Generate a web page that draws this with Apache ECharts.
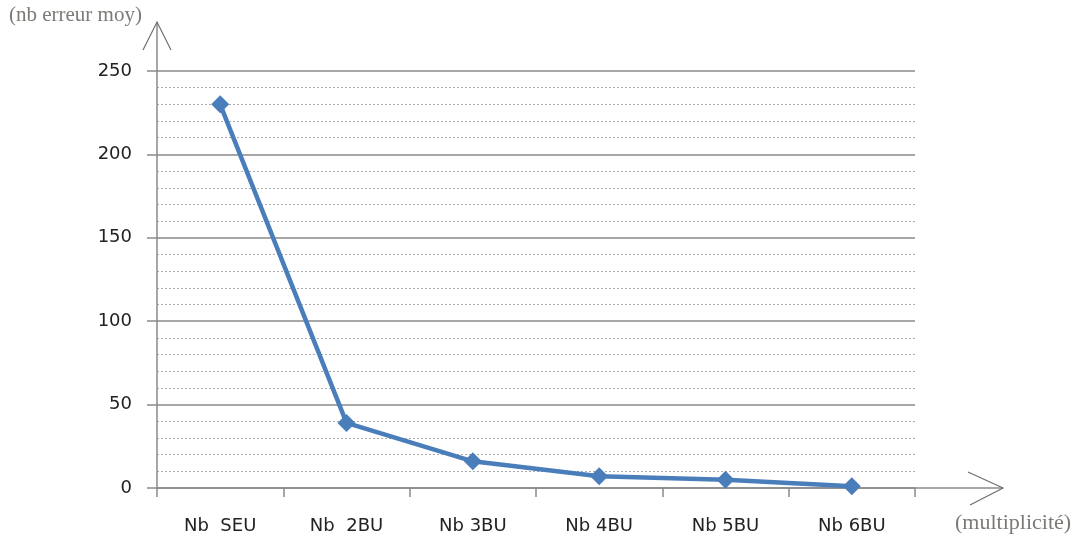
<!DOCTYPE html>
<html>
<head>
<meta charset="utf-8">
<script src="https://cdn.jsdelivr.net/npm/echarts@6/dist/echarts.min.js"></script>
<style>
html,body{margin:0;padding:0;background:#fff;}
#c{width:1075px;height:539px;}
</style>
</head>
<body>
<div id="c"></div>
<script>
var categories = ['Nb  SEU', 'Nb  2BU', 'Nb 3BU', 'Nb 4BU', 'Nb 5BU', 'Nb 6BU'];
var values = [230, 39, 16, 7, 5, 1];
var yTicks = [0, 50, 100, 150, 200, 250];
var yAxisName = '(nb erreur moy)';
var xAxisName = '(multiplicité)';

var chart = echarts.init(document.getElementById('c'));
var axisColor = '#8a8a8a';
var gL = 157, gR = 915, gT = 71, gB = 488;
chart.setOption({
  animation: false,
  grid: { left: gL, right: 1075 - gR, top: gT, bottom: 539 - gB },
  xAxis: {
    type: 'category',
    data: categories,
    boundaryGap: true,
    axisLine: { lineStyle: { color: axisColor, width: 1.5 } },
    axisTick: { show: true, interval: 0, length: 9, lineStyle: { color: axisColor, width: 1.5 } },
    axisLabel: { interval: 0, margin: 29, color: '#222', fontSize: 18, fontFamily: 'DejaVu Sans' },
    splitLine: { show: false }
  },
  yAxis: {
    type: 'value',
    min: yTicks[0], max: yTicks[yTicks.length - 1], interval: 50,
    axisLine: { show: true, lineStyle: { color: axisColor, width: 1.5 } },
    axisTick: { show: true, length: 10, lineStyle: { color: axisColor, width: 1.5 } },
    axisLabel: { margin: 25, color: '#222', fontSize: 18, fontFamily: 'DejaVu Sans' },
    splitLine: { show: true, lineStyle: { color: axisColor, width: 1.5 } },
    minorTick: { show: false, splitNumber: 5 },
    minorSplitLine: { show: true, lineStyle: { color: '#aaaaaa', width: 1, type: [2, 2] } }
  },
  series: [{
    type: 'line',
    data: values,
    symbol: 'diamond',
    symbolSize: 18,
    lineStyle: { color: '#4a7ebb', width: 4.5 },
    itemStyle: { color: '#4a7ebb' }
  }],
  graphic: [
    { type: 'line', shape: { x1: gL, y1: gT, x2: gL, y2: 22 }, style: { stroke: axisColor, lineWidth: 1.5 } },
    { type: 'polyline', shape: { points: [[143, 50], [gL, 22], [171, 50]] }, style: { stroke: '#707070', lineWidth: 1.2, fill: null } },
    { type: 'line', shape: { x1: gR, y1: gB, x2: 1003, y2: gB }, style: { stroke: axisColor, lineWidth: 1.5 } },
    { type: 'polyline', shape: { points: [[968, 472], [1003, gB], [970, 505]] }, style: { stroke: '#707070', lineWidth: 1.2, fill: null } },
    { type: 'text', left: 9, top: 5, style: { text: yAxisName, fill: '#7d7a76', font: '21px "Liberation Serif"' } },
    { type: 'text', left: 955, top: 512, style: { text: xAxisName, fill: '#7d7a76', font: '22px "Liberation Serif"' } }
  ]
});
</script>
</body>
</html>
